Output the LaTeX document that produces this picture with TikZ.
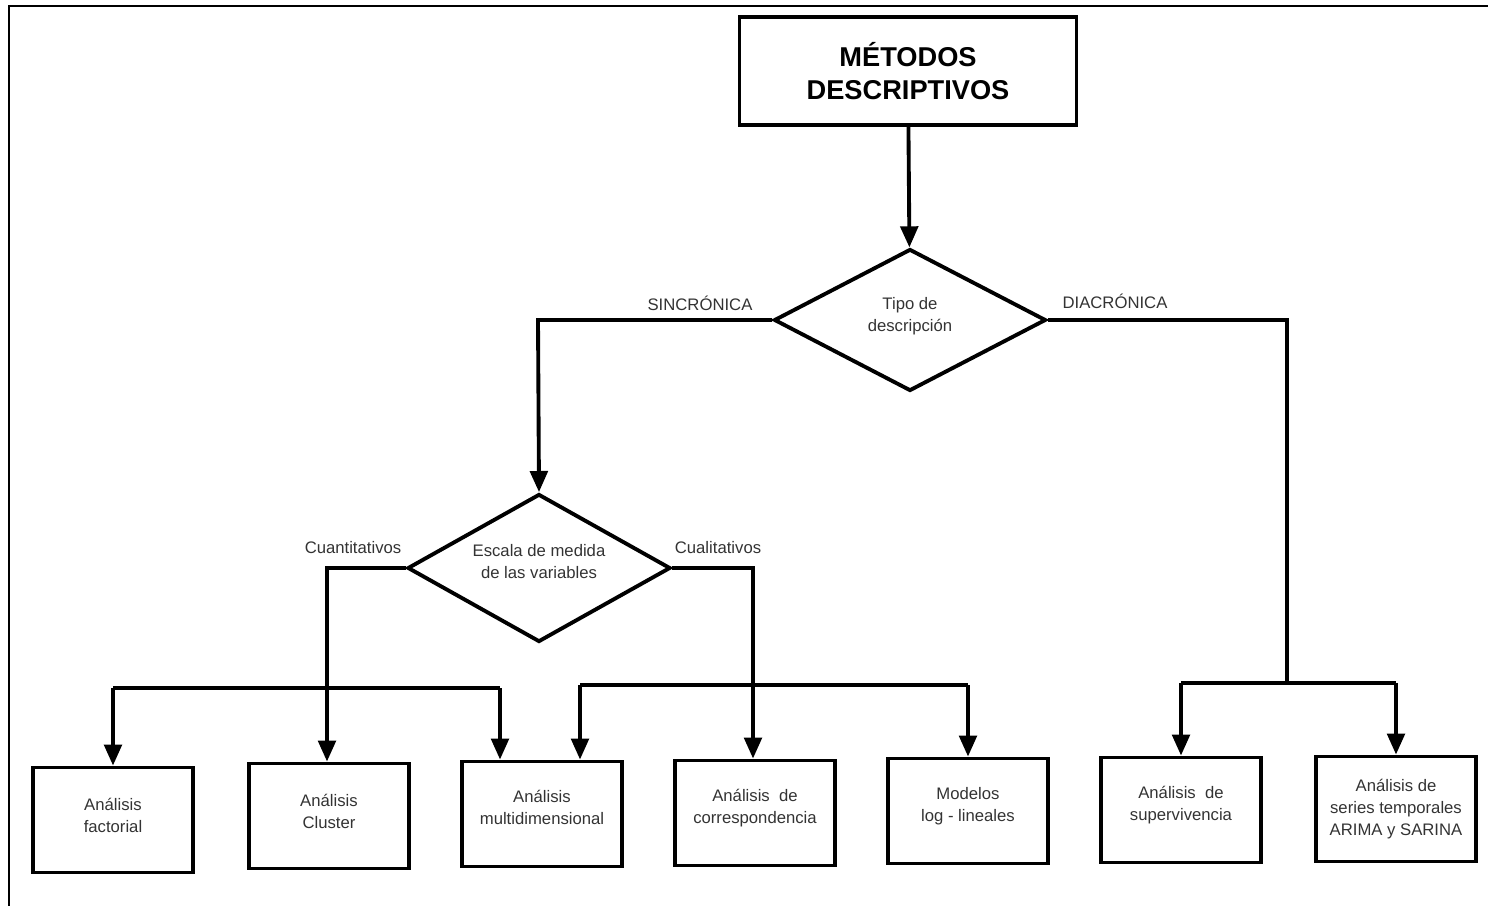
\documentclass[tikz,border=0pt]{standalone}
\usepackage{fontspec}
\setmainfont{Liberation Sans}
\usetikzlibrary{arrows.meta, shapes.geometric, positioning}
\tikzstyle{metodo}=[draw, line width=2.2pt, minimum width=3.2cm, minimum height=2.1cm, align=center, font=\fontsize{9.5}{12.5}\selectfont, text=black!80]
\tikzstyle{decision}=[diamond, aspect=1.8, draw, line width=2.2pt, inner sep=0pt, align=center, font=\fontsize{9.5}{12.5}\selectfont, text=black!80]
\tikzstyle{rama}=[font=\fontsize{9.5}{12}\selectfont, text=black!80]

\begin{document}
\begin{tikzpicture}[x=0.02cm, y=-0.02cm, line width=2.2pt, -{Triangle[width=10pt,length=12pt]}]
    \useasboundingbox (0,0) rectangle (1488,906);
    \draw[-, line width=1.2pt] (9,906) -- (9,6) -- (1488,6);

    % raiz
    \node[draw, line width=2.2pt, minimum width=6.74cm, minimum height=2.16cm, align=center,
          font=\fontsize{15.5}{18.5}\selectfont\bfseries] (raiz) at (908,71) {MÉTODOS\\ DESCRIPTIVOS};

    % decisiones
    \node[decision, minimum width=5.44cm, minimum height=2.84cm] (tipo) at (910,320) {Tipo de\\ descripción\\[-6pt]};
    \node[decision, minimum width=5.26cm, minimum height=2.96cm] (escala) at (539,568) {Escala de medida\\ de las variables\\[-5pt]};

    % metodos
    \node[metodo] (factorial) at (113,820) {Análisis\\ factorial\\[-7pt]};
    \node[metodo] (cluster)   at (329,816) {Análisis\\ Cluster\\[-7pt]};
    \node[metodo] (multi)     at (542,814) {Análisis\\ multidimensional\\[-5pt]};
    \node[metodo] (corresp)   at (755,813) {Análisis~~de\\ correspondencia\\[-5pt]};
    \node[metodo] (loglin)    at (968,811) {Modelos\\ log - lineales\\[-5pt]};
    \node[metodo] (superv)    at (1181,810) {Análisis~~de\\ supervivencia\\[-5pt]};
    \node[metodo] (series)    at (1396,809) {Análisis de\\ series temporales\\ ARIMA y SARINA};

    \coordinate (sinc) at (538,320);
    \coordinate (diac) at (1287,320);
    \coordinate (cuant) at (327,568);
    \coordinate (cual) at (753,568);

    \draw (raiz) -- (tipo);
    \draw (tipo.west) -- (sinc) -- (escala.north);
    \draw[-] (tipo.east) -- (diac) -- (1287,683);
    \draw (escala.west) -- (cuant) -- (cluster.north -| cuant);
    \draw (escala.east) -- (cual) -- (corresp.north -| cual);

    % buses
    \draw (113,688) -- (factorial.north);
    \draw[-] (113,688) -- (500,688);
    \draw (500,688) -- (multi.north -| 500,0);
    \draw (580,685) -- (multi.north -| 580,0);
    \draw[-] (580,685) -- (968,685);
    \draw (968,685) -- (loglin.north);
    \draw (1181,683) -- (superv.north);
    \draw[-] (1181,683) -- (1396,683);
    \draw (1396,683) -- (series.north);

    % etiquetas
    \node[rama] at (700,303) {SINCRÓNICA};
    \node[rama] at (1115,301) {DIACRÓNICA};
    \node[rama] at (353,548) {Cuantitativos};
    \node[rama] at (718,548) {Cualitativos};
\end{tikzpicture}
\end{document}
